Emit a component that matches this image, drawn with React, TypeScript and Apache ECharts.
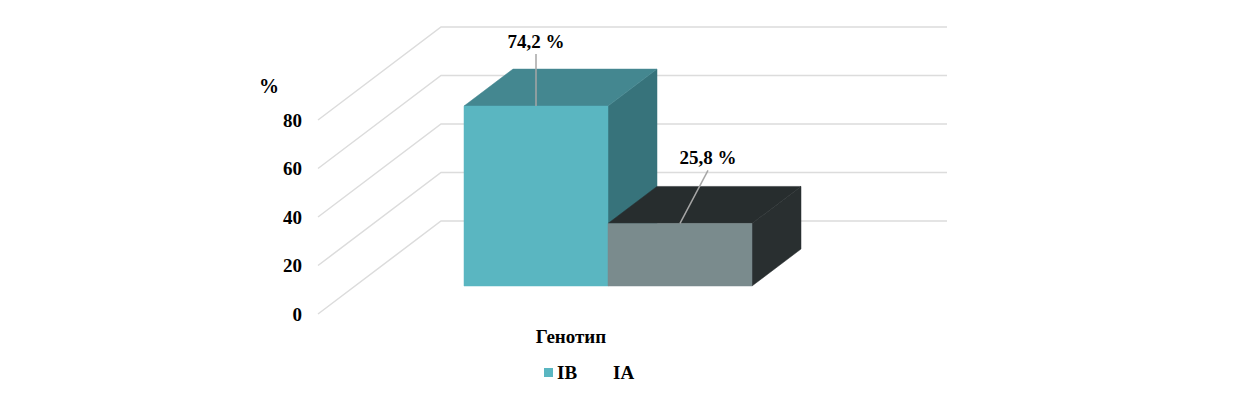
import React, { useEffect, useRef } from "react";
import * as echarts from "echarts";

const categories = ["Генотип"];
const seriesNames = ["IB", "IA"];
const ibValues = [74.2];
const iaValues = [25.8];
const valueLabels = ["74,2 %", "25,8 %"];
const yTicks = [0, 20, 40, 60, 80];

const FONT = '"Liberation Serif", "Times New Roman", serif';
const WALL = { dx: 123, dy: -93 };
const BAR_FRONT = { dx: 37, dy: -28 };
const BAR_DEPTH = { dx: 49, dy: -37 };
const BAR_RATIO = 144 / 506;

const wallItem = (_: any, api: any) => {
  const [x0, y0] = api.coord([0, api.value(0)]);
  const band = api.size([1, 0])[0];
  const left = x0 - band / 2;
  const right = x0 + band / 2;
  return {
    type: "polyline",
    shape: {
      points: [
        [left, y0],
        [left + WALL.dx, y0 + WALL.dy],
        [right + WALL.dx, y0 + WALL.dy],
      ],
    },
    style: { stroke: "#DCDCDC", lineWidth: 1.5, fill: "none" },
  };
};

const barItem =
  (side: number, colors: any, text: string, leader: number[]) =>
  (_: any, api: any) => {
    const [cx, yTop] = api.coord([0, api.value(1)]);
    const [, yBase] = api.coord([0, 0]);
    const w = api.size([1, 0])[0] * BAR_RATIO;
    const x1 = cx + BAR_FRONT.dx + (side < 0 ? -w : 0);
    const x2 = x1 + w;
    const top = yTop + BAR_FRONT.dy;
    const bot = yBase + BAR_FRONT.dy;
    const { dx, dy } = BAR_DEPTH;
    const mid = (x1 + x2) / 2;
    const poly = (points: number[][], fill: string) => ({
      type: "polygon",
      shape: { points },
      style: { fill, stroke: fill, lineWidth: 0.5 },
    });
    return {
      type: "group",
      children: [
        poly([[x2, top], [x2 + dx, top + dy], [x2 + dx, bot + dy], [x2, bot]], colors.side),
        poly([[x1, top], [x1 + dx, top + dy], [x2 + dx, top + dy], [x2, top]], colors.top),
        poly([[x1, top], [x2, top], [x2, bot], [x1, bot]], colors.front),
        {
          type: "line",
          shape: { x1: mid, y1: top, x2: mid + leader[0], y2: top + leader[1] },
          style: { stroke: "#A6A6A6", lineWidth: 1.5 },
        },
        {
          type: "text",
          style: {
            text,
            x: mid + leader[0],
            y: top + leader[1] - 12.5,
            align: "center",
            verticalAlign: "middle",
            font: `bold 19px ${FONT}`,
            fill: "#000",
          },
        },
      ],
    };
  };

export default function App() {
  const ref = useRef<HTMLDivElement>(null);
  useEffect(() => {
    const chart = echarts.init(ref.current!, undefined, { renderer: "svg" });
    chart.setOption({
      animation: false,
      backgroundColor: "#fff",
      grid: { left: 318, width: 506, top: 120, bottom: 92 },
      xAxis: {
        type: "category",
        data: categories,
        axisLine: { show: false },
        axisTick: { show: false },
        axisLabel: { margin: 13, color: "#000", fontFamily: FONT, fontWeight: "bold", fontSize: 19 },
      },
      yAxis: {
        type: "value",
        min: 0,
        max: 80,
        interval: 20,
        axisLine: { show: false },
        axisTick: { show: false },
        splitLine: { show: false },
        axisLabel: { margin: 16, color: "#000", fontFamily: FONT, fontWeight: "bold", fontSize: 19, padding: [2, 0, 0, 0] },
      },
      legend: {
        left: 539,
        top: 358,
        itemWidth: 9,
        itemHeight: 9,
        itemGap: 23,
        textStyle: { color: "#000", fontFamily: FONT, fontWeight: "bold", fontSize: 19, padding: [0, 0, 0, -1] },
        data: [
          { name: seriesNames[0], icon: "rect" },
          { name: seriesNames[1], icon: "rect", itemStyle: { opacity: 0 } },
        ],
      },
      graphic: [
        {
          type: "text",
          x: 269,
          y: 86,
          style: {
            text: "%",
            align: "center",
            verticalAlign: "middle",
            font: `bold 20px ${FONT}`,
            fill: "#000",
          },
        },
      ],
      series: [
        {
          type: "custom",
          name: "walls",
          silent: true,
          z: 1,
          data: yTicks.map((v) => [v]),
          encode: { y: 0 },
          renderItem: wallItem,
        },
        {
          type: "custom",
          name: seriesNames[0],
          silent: true,
          z: 2,
          itemStyle: { color: "#5AB6C1" },
          data: ibValues.map((v, i) => [i, v]),
          encode: { x: 0, y: 1 },
          renderItem: barItem(-1, { front: "#5AB6C1", top: "#448790", side: "#37737B" }, valueLabels[0], [0, -52]),
        },
        {
          type: "custom",
          name: seriesNames[1],
          silent: true,
          z: 3,
          itemStyle: { color: "#7A8B8D" },
          data: iaValues.map((v, i) => [i, v]),
          encode: { x: 0, y: 1 },
          renderItem: barItem(1, { front: "#7A8B8D", top: "#272D2E", side: "#292F30" }, valueLabels[1], [28, -53]),
        },
      ],
    });
    return () => chart.dispose();
  }, []);
  return <div ref={ref} style={{ position: "absolute", left: 0, top: 0, width: 1240, height: 406 }} />;
}
